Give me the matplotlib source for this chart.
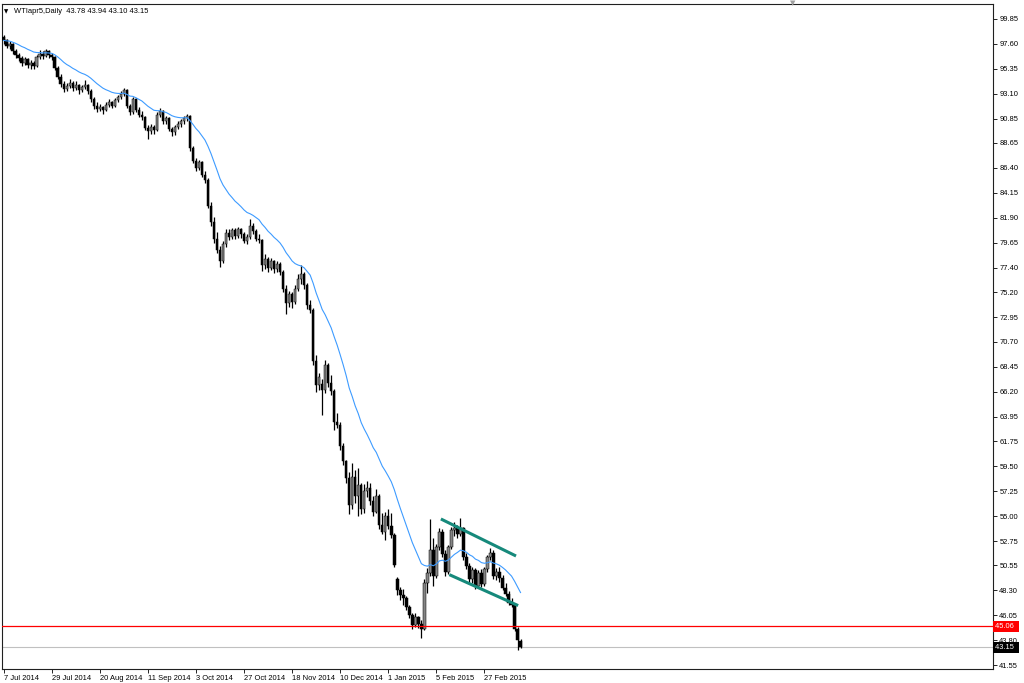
import numpy as np
import pandas as pd
import matplotlib
matplotlib.use('Agg')
import matplotlib.pyplot as plt
from matplotlib.transforms import blended_transform_factory

plt.rcParams['font.family'] = ['Liberation Sans', 'DejaVu Sans']

# WTI April 2015 contract, daily bars
opens = [
    98.2, 97.9, 97.4, 97.6, 96.9, 96.6, 96.3, 95.9, 96.2, 95.7,
    95.9, 95.6, 96.4, 96.7, 96.5, 96.9, 96.6, 96.4, 95.4, 94.6,
    94.0, 93.5, 93.8, 94.1, 93.6, 93.9, 93.4, 93.7, 93.9, 93.3,
    92.6, 92.0, 91.7, 91.9, 91.6, 92.1, 92.3, 92.0, 92.5, 92.8,
    93.1, 93.4, 92.0, 91.4, 92.6, 91.6, 91.2, 91.0, 90.0, 89.7,
    90.1, 89.8, 91.2, 91.5, 90.6, 90.9, 89.9, 89.6, 90.1, 90.4,
    90.6, 90.9, 91.1, 88.2, 87.0, 86.4, 86.9, 85.8, 85.3, 83.0,
    81.5, 80.0, 79.0, 78.0, 79.5, 80.5, 80.2, 80.8, 80.3, 80.9,
    80.4, 79.8, 80.2, 81.2, 80.7, 80.0, 79.9, 77.6, 78.2, 77.4,
    78.0, 77.3, 77.7, 77.0, 75.5, 74.2, 75.0, 74.3, 75.5, 76.4,
    76.8, 75.8, 74.0, 73.6, 69.0, 66.8, 66.9, 66.4, 68.6, 67.0,
    66.3, 63.5, 63.2, 61.3, 60.0, 58.4, 56.0, 58.5, 56.8, 57.8,
    55.6, 57.3, 57.5, 56.4, 55.4, 56.8, 54.2, 53.6, 55.0, 54.1,
    53.3, 49.3, 48.3, 47.9, 47.6, 46.8, 46.1, 45.2, 45.9, 45.3,
    44.8, 49.0, 49.9, 51.9, 49.6, 52.2, 53.6, 51.6, 50.0, 52.2,
    53.7, 53.9, 53.4, 53.9, 51.3, 50.5, 49.3, 50.1, 48.7, 49.9,
    48.9, 50.2, 51.3, 51.7, 49.6, 50.0, 49.4, 48.5, 48.0, 47.2,
    47.0, 44.8, 43.78,
]
highs = [
    98.4, 98.0, 97.8, 97.7, 97.1, 96.8, 96.5, 96.4, 96.3, 96.1,
    96.0, 96.6, 97.0, 96.9, 97.1, 97.0, 96.8, 96.5, 95.6, 94.9,
    94.2, 94.1, 94.4, 94.2, 94.2, 94.0, 93.9, 94.3, 94.0, 93.5,
    92.8, 92.3, 92.2, 92.0, 92.3, 92.6, 92.4, 92.7, 93.0, 93.3,
    93.6, 93.5, 92.2, 92.8, 92.7, 91.9, 91.5, 91.1, 90.3, 90.4,
    90.3, 91.4, 91.8, 91.6, 91.1, 91.0, 90.1, 90.3, 90.6, 90.8,
    91.1, 91.3, 91.2, 88.4, 87.3, 87.1, 87.0, 86.1, 85.5, 83.3,
    82.0, 80.6, 79.4, 79.8, 80.9, 80.9, 81.0, 81.0, 81.1, 81.0,
    80.6, 80.4, 81.8, 81.4, 80.9, 80.4, 80.0, 78.6, 78.4, 78.3,
    78.1, 78.0, 77.9, 77.2, 75.8, 75.3, 75.2, 75.8, 76.8, 77.6,
    77.0, 76.0, 74.5, 73.8, 69.5, 67.9, 67.4, 69.1, 68.8, 67.7,
    66.5, 64.3, 63.5, 61.6, 60.1, 59.0, 59.8, 59.2, 59.3, 58.0,
    57.9, 58.2, 58.0, 56.8, 57.4, 57.0, 55.3, 55.4, 55.6, 55.3,
    53.5, 49.5, 48.6, 48.4, 47.8, 47.0, 46.3, 46.3, 46.0, 45.6,
    49.3, 50.3, 54.7, 53.0, 52.5, 53.9, 53.8, 51.9, 52.4, 54.0,
    54.5, 54.2, 54.8, 54.0, 51.7, 50.8, 50.4, 50.3, 50.1, 50.2,
    50.4, 51.5, 52.1, 51.9, 50.3, 50.4, 49.7, 49.0, 48.2, 47.6,
    47.2, 45.0, 43.94,
]
lows = [
    97.6, 97.2, 97.1, 96.7, 96.3, 96.0, 95.6, 95.7, 95.4, 95.3,
    95.3, 95.5, 96.2, 96.2, 96.4, 96.3, 96.1, 95.2, 94.4, 93.7,
    93.2, 93.3, 93.6, 93.3, 93.4, 93.1, 93.2, 93.5, 93.1, 92.3,
    91.7, 91.4, 91.5, 91.3, 91.5, 91.9, 91.8, 91.9, 92.3, 92.6,
    92.9, 91.8, 91.2, 91.3, 91.4, 91.0, 90.7, 89.8, 89.0, 89.5,
    89.5, 89.7, 91.0, 90.4, 90.4, 89.7, 89.3, 89.4, 89.9, 90.1,
    90.4, 90.6, 87.9, 86.8, 86.1, 86.2, 85.6, 85.0, 82.8, 81.2,
    79.6, 78.7, 77.5, 77.8, 79.3, 79.9, 80.0, 80.0, 80.1, 80.1,
    79.6, 79.5, 80.0, 80.4, 79.8, 79.6, 77.1, 77.3, 77.0, 77.2,
    76.9, 77.0, 76.7, 75.2, 73.2, 73.9, 73.8, 74.1, 75.3, 75.9,
    75.5, 73.7, 73.3, 68.6, 66.2, 66.4, 64.1, 66.1, 66.6, 65.9,
    62.8, 62.9, 61.0, 59.6, 58.0, 55.2, 55.6, 56.2, 55.0, 55.2,
    55.3, 56.7, 56.0, 55.0, 55.3, 53.8, 53.4, 52.8, 53.8, 53.0,
    50.4, 47.9, 47.4, 47.0, 46.5, 45.8, 44.8, 45.0, 44.9, 44.0,
    44.7, 48.1, 49.6, 48.7, 49.4, 51.9, 51.3, 49.6, 49.8, 52.0,
    53.2, 53.0, 53.2, 51.0, 50.2, 49.0, 49.0, 48.4, 48.5, 48.6,
    48.7, 50.0, 51.0, 49.3, 49.2, 49.1, 48.3, 47.8, 47.0, 46.8,
    44.6, 42.9, 43.10,
]
closes = [
    97.9, 97.4, 97.6, 96.9, 96.6, 96.3, 95.9, 96.2, 95.7, 95.9,
    95.6, 96.4, 96.7, 96.5, 96.9, 96.6, 96.4, 95.4, 94.6, 94.0,
    93.5, 93.8, 94.1, 93.6, 93.9, 93.4, 93.7, 93.9, 93.3, 92.6,
    92.0, 91.7, 91.9, 91.6, 92.1, 92.3, 92.0, 92.5, 92.8, 93.1,
    93.4, 92.0, 91.4, 92.6, 91.6, 91.2, 91.0, 90.0, 89.7, 90.1,
    89.8, 91.2, 91.5, 90.6, 90.9, 89.9, 89.6, 90.1, 90.4, 90.6,
    90.9, 91.1, 88.2, 87.0, 86.4, 86.9, 85.8, 85.3, 83.0, 81.5,
    80.0, 79.0, 78.0, 79.5, 80.5, 80.2, 80.8, 80.3, 80.9, 80.4,
    79.8, 80.2, 81.2, 80.7, 80.0, 79.9, 77.6, 78.2, 77.4, 78.0,
    77.3, 77.7, 77.0, 75.5, 74.2, 75.0, 74.3, 75.5, 76.4, 76.8,
    75.8, 74.0, 73.6, 69.0, 66.8, 67.5, 66.4, 68.6, 67.0, 66.3,
    63.5, 63.2, 61.3, 60.0, 58.4, 56.0, 58.5, 56.8, 57.8, 55.6,
    57.3, 57.5, 56.4, 55.4, 56.8, 54.2, 53.6, 55.0, 54.1, 53.3,
    50.6, 48.3, 47.9, 47.6, 46.8, 46.1, 45.2, 45.9, 45.3, 44.8,
    49.0, 49.9, 51.9, 49.6, 52.2, 53.6, 51.6, 50.0, 52.2, 53.7,
    53.9, 53.4, 53.9, 51.3, 50.5, 49.3, 50.1, 48.7, 49.9, 48.9,
    50.2, 51.3, 51.7, 49.6, 50.0, 49.4, 48.5, 48.0, 47.2, 47.0,
    44.8, 43.8, 43.15,
]

# date labels along the bottom and the bar they belong to
date_labels = ['7 Jul 2014', '29 Jul 2014', '20 Aug 2014', '11 Sep 2014',
               '3 Oct 2014', '27 Oct 2014', '18 Nov 2014', '10 Dec 2014',
               '1 Jan 2015', '5 Feb 2015', '27 Feb 2015']
date_bars = [0, 16, 32, 48, 64, 80, 96, 112, 128, 144, 160]

price_labels = ['99.85', '97.60', '95.35', '93.10', '90.85', '88.65', '86.40',
                '84.15', '81.90', '79.65', '77.40', '75.20', '72.95', '70.70',
                '68.45', '66.20', '63.95', '61.75', '59.50', '57.25', '55.00',
                '52.75', '50.55', '48.30', '46.05', '43.80', '41.55']

support_level = 45.06
last_close = 43.15

# hand drawn channel (bar index, price) of both ends
channel_top_bars = [145.5, 170.5]
channel_top_prices = [54.74, 51.40]
channel_bottom_bars = [148.3, 171.2]
channel_bottom_prices = [49.72, 46.93]

ma_period = 20


def draw_candles(ax, o, h, l, c):
    o, h, l, c = map(np.asarray, (o, h, l, c))
    x = np.arange(len(c))
    ax.vlines(x, l, h, color='black', lw=0.9, zorder=2)
    up = c >= o
    body_lo = np.minimum(o, c)
    body_h = np.maximum(np.abs(c - o), 0.06)
    ax.bar(x[up], body_h[up], bottom=body_lo[up], width=0.8,
           color='#858585', edgecolor='black', lw=0.35, zorder=3)
    ax.bar(x[~up], body_h[~up], bottom=body_lo[~up], width=0.8,
           color='black', edgecolor='black', lw=0.35, zorder=3)


def main():
    fig = plt.figure(figsize=(10.24, 6.83), dpi=100)
    ax = fig.add_axes([2 / 1024, 1 - 669 / 683, 991 / 1024, 665 / 683])

    draw_candles(ax, opens, highs, lows, closes)

    ma = pd.Series(closes).ewm(span=ma_period, adjust=False).mean()
    ax.plot(np.arange(len(closes)), ma, color='#3d9bff', lw=0.8, zorder=4)

    ax.plot(channel_top_bars, channel_top_prices, color='#16897b', lw=2.2,
            solid_capstyle='butt', zorder=5)
    ax.plot(channel_bottom_bars, channel_bottom_prices, color='#16897b', lw=2.2,
            solid_capstyle='butt', zorder=5)

    ax.axhline(support_level, color='#ff0000', lw=0.9, zorder=5)
    ax.axhline(last_close, color='#c0c0c0', lw=0.8, zorder=1)

    ax.set_xlim(-0.53, 329.2)
    ax.set_ylim(41.21, 101.18)

    ax.set_xticks(date_bars)
    ax.set_xticklabels(date_labels)
    for lab in ax.get_xticklabels():
        lab.set_ha('left')
    ax.set_yticks([float(p) for p in price_labels])
    ax.set_yticklabels(price_labels)
    ax.yaxis.tick_right()
    ax.tick_params(axis='both', labelsize=5.4, length=3, width=0.6,
                   color='black', pad=1.5)
    for sp in ax.spines.values():
        sp.set_linewidth(0.8)
        sp.set_color('#202020')

    tr = blended_transform_factory(ax.transAxes, ax.transData)
    ax.text(1.0025, support_level, '45.06 ', transform=tr, fontsize=5.4,
            color='white', va='center', ha='left',
            bbox=dict(facecolor='#ff0000', edgecolor='none', pad=1.6))
    ax.text(1.0025, last_close, '43.15 ', transform=tr, fontsize=5.4,
            color='white', va='center', ha='left',
            bbox=dict(facecolor='black', edgecolor='none', pad=1.6))

    ax.text(0.002, 0.989, '\u25bc', transform=ax.transAxes, fontsize=4,
            va='center', ha='left', family='DejaVu Sans')
    ax.text(0.012, 0.989, 'WTIapr5,Daily  43.78 43.94 43.10 43.15',
            transform=ax.transAxes, fontsize=5.4, va='center', ha='left')
    fig.text(793 / 1024, 1 - 3 / 683, '\u25bc', fontsize=5, color='#a0a0a0',
             ha='center', va='center', family='DejaVu Sans')

    fig.savefig('out.png', dpi=100)
    plt.close(fig)


if __name__ == '__main__':
    main()
